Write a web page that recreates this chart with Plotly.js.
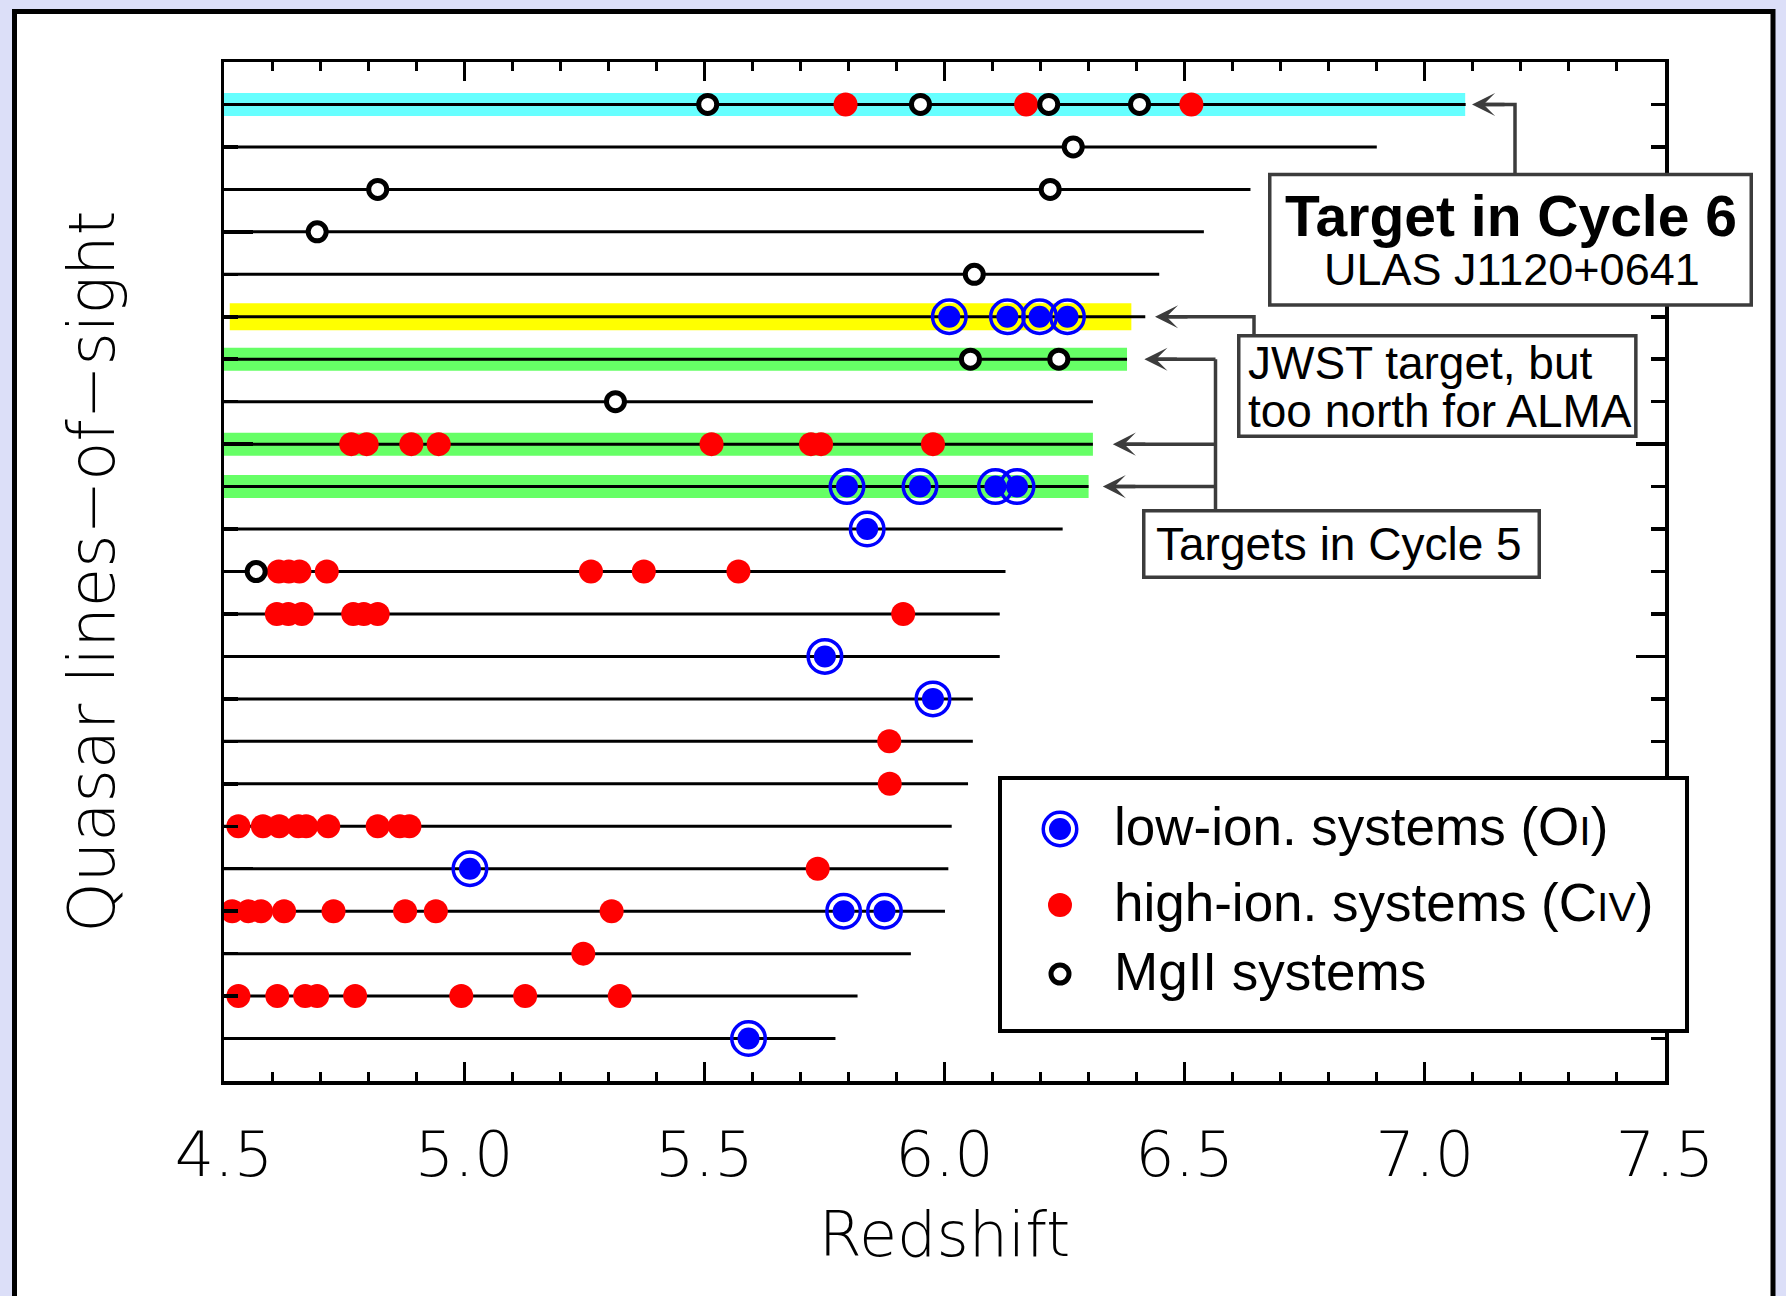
<!DOCTYPE html>
<html>
<head>
<meta charset="utf-8">
<script src="https://cdn.plot.ly/plotly-3.0.1.min.js"></script>
<style>
  html, body { margin: 0; padding: 0; background: #dcdff8; }
  #chart { width: 1786px; height: 1296px; }
</style>
</head>
<body>
<div id="chart"></div>
<script>
// ---------------------------------------------------------------------------
// Quasar sightlines, listed from the top row to the bottom row.
// Each line runs from z = 4.5 up to the quasar's own redshift.
// ---------------------------------------------------------------------------
const qsoRedshift = [7.085, 6.900, 6.637, 6.540, 6.447, 6.418, 6.380, 6.309, 6.309, 6.300,
                     6.246, 6.127, 6.115, 6.115, 6.059, 6.059, 6.049, 6.015, 6.008, 6.001,
                     5.930, 5.819, 5.773];

// Low-ionisation (O I) absorbers on each sightline
const oiSystems = [
  [], [], [], [], [],
  [6.010, 6.131, 6.198, 6.256],
  [], [], [],
  [5.797, 5.949, 6.106, 6.151],
  [5.839], [], [],
  [5.751],
  [5.976], [], [], [],
  [5.012],
  [5.790, 5.875],
  [], [],
  [5.592]
];

// High-ionisation (C IV) absorbers on each sightline
const civSystems = [
  [5.794, 6.170, 6.514],
  [], [], [], [], [], [], [],
  [4.765, 4.797, 4.890, 4.947, 5.515, 5.722, 5.743, 5.976],
  [], [],
  [4.614, 4.635, 4.657, 4.714, 5.264, 5.374, 5.571],
  [4.610, 4.634, 4.662, 4.769, 4.791, 4.820, 5.914],
  [], [],
  [5.885],
  [5.886],
  [4.530, 4.581, 4.615, 4.655, 4.671, 4.717, 4.820, 4.866, 4.886],
  [5.736],
  [4.517, 4.551, 4.577, 4.625, 4.728, 4.877, 4.941, 5.307],
  [5.248],
  [4.530, 4.611, 4.669, 4.694, 4.773, 4.994, 5.127, 5.324],
  []
];

// Mg II absorbers on each sightline
const mgiiSystems = [
  [5.507, 5.950, 6.217, 6.406],
  [6.268],
  [4.820, 6.220],
  [4.694],
  [6.062],
  [],
  [6.054, 6.238],
  [5.315],
  [], [], [],
  [4.567],
  [], [], [], [], [], [], [], [], [], [], []
];

// Highlighted sightlines: row, redshift span of the highlight, programme
const bandRow   = [0, 5, 6, 8, 9];
const bandStart = [4.500, 4.512, 4.500, 4.500, 4.500];
const bandEnd   = [7.084, 6.389, 6.380, 6.309, 6.300];
const bandKind  = ['cycle6', 'jwst', 'cycle5', 'cycle5', 'cycle5'];

// Redshift axis
const zTicks      = [4.5, 5.0, 5.5, 6.0, 6.5, 7.0, 7.5];
const zTickLabels = ['4.5', '5.0', '5.5', '6.0', '6.5', '7.0', '7.5'];

// Callout and legend text
const cycle6Title  = 'Target in Cycle 6';
const cycle6Quasar = 'ULAS J1120+0641';
const jwstLines    = ['JWST target, but', 'too north for ALMA'];
const cycle5Label  = 'Targets in Cycle 5';
const legendLabels = [
  'low-ion. systems (O<span style="font-size:41px">I</span>)',
  'high-ion. systems (C<span style="font-size:41px">IV</span>)',
  'MgII systems'
];

// ---------------------------------------------------------------------------
// Page geometry and styles
// ---------------------------------------------------------------------------
const FIG_W = 1786, FIG_H = 1296;
const M = { l: 224, r: 121, t: 62, b: 215 };
const PLOT_W = FIG_W - M.l - M.r;
const PLOT_H = FIG_H - M.t - M.b;
const Y_MAX = qsoRedshift.length + 1;   // one empty slot above and below
const Z_MIN = 4.5, Z_MAX = 7.5;

const SANS = '"Liberation Sans", Arial, Helvetica, sans-serif';
const AXIS_FONT = '"DejaVu Sans", Verdana, sans-serif';
const BOX_GREY = '#3c3c3c';

const bandStyle = {
  cycle6: { color: '#66ffff', width: 23 },
  jwst:   { color: '#ffff00', width: 27 },
  cycle5: { color: '#66ff66', width: 23 }
};

// pixel -> paper helpers for the decorations drawn around the plot
const PX = px => (px - M.l) / PLOT_W;
const PY = py => (FIG_H - M.b - py) / PLOT_H;
const rowY = i => qsoRedshift.length - i;          // data y of row i
const rowPx = i => FIG_H - M.b - rowY(i) * PLOT_H / Y_MAX;

function flatten(lists) {
  const xs = [], ys = [];
  lists.forEach((zs, i) => zs.forEach(z => { xs.push(z); ys.push(rowY(i)); }));
  return { xs, ys };
}

// ---------------------------------------------------------------------------
// Traces
// ---------------------------------------------------------------------------
const traces = [];

bandRow.forEach((r, k) => {
  const st = bandStyle[bandKind[k]];
  traces.push({
    type: 'scatter', mode: 'lines',
    x: [bandStart[k], bandEnd[k]], y: [rowY(r), rowY(r)],
    line: { color: st.color, width: st.width },
    hoverinfo: 'skip', showlegend: false
  });
});

const lx = [], ly = [];
qsoRedshift.forEach((z, i) => { lx.push(Z_MIN, z, null); ly.push(rowY(i), rowY(i), null); });
traces.push({
  type: 'scatter', mode: 'lines', x: lx, y: ly,
  line: { color: '#000000', width: 3 },
  hoverinfo: 'skip', showlegend: false
});

const civ = flatten(civSystems);
traces.push({
  type: 'scatter', mode: 'markers', x: civ.xs, y: civ.ys,
  marker: { symbol: 'circle', size: 24, color: '#ff0000', line: { width: 0 } },
  name: 'C IV', showlegend: false
});

const oi = flatten(oiSystems);
traces.push({
  type: 'scatter', mode: 'markers', x: oi.xs, y: oi.ys,
  marker: { symbol: 'circle-open', size: 33.5, color: '#0000ff', line: { color: '#0000ff', width: 3.5 } },
  hoverinfo: 'skip', showlegend: false
});
traces.push({
  type: 'scatter', mode: 'markers', x: oi.xs, y: oi.ys,
  marker: { symbol: 'circle', size: 22, color: '#0000ff', line: { width: 0 } },
  name: 'O I', showlegend: false
});

const mg = flatten(mgiiSystems);
traces.push({
  type: 'scatter', mode: 'markers', x: mg.xs, y: mg.ys,
  marker: { symbol: 'circle', size: 18, color: '#ffffff', line: { color: '#000000', width: 5 } },
  name: 'Mg II', showlegend: false
});

// ---------------------------------------------------------------------------
// Decorations: outer panel, callout boxes, connectors, legend
// ---------------------------------------------------------------------------
const shapes = [];
const annotations = [];

// white panel with a black frame
shapes.push({
  type: 'rect', xref: 'paper', yref: 'paper', layer: 'below',
  x0: PX(14.5), x1: PX(1773), y0: PY(11.5), y1: PY(1340),
  fillcolor: '#ffffff', line: { color: '#000000', width: 5 }
});

function boxShape(x0, y0, x1, y1, color, width) {
  shapes.push({
    type: 'rect', xref: 'paper', yref: 'paper', layer: 'above',
    x0: PX(x0), x1: PX(x1), y0: PY(y0), y1: PY(y1),
    fillcolor: '#ffffff', line: { color: color, width: width }
  });
}
function connector(points) {
  const d = points.map((p, j) => (j ? 'L' : 'M') + PX(p[0]) + ',' + PY(p[1])).join(' ');
  shapes.push({
    type: 'path', xref: 'paper', yref: 'paper', layer: 'above',
    path: d, line: { color: BOX_GREY, width: 3.5 }
  });
}
function arrowHead(tipX, tipY) {
  annotations.push({
    xref: 'paper', yref: 'paper', x: PX(tipX), y: PY(tipY),
    text: '', showarrow: true, ax: 34, ay: 0,
    arrowhead: 3, arrowsize: 1.1, arrowwidth: 3.5, arrowcolor: BOX_GREY,
    font: { size: 1 }
  });
}
function label(text, x, y, size, anchor, bold) {
  annotations.push({
    xref: 'paper', yref: 'paper', x: PX(x), y: PY(y),
    xanchor: anchor, yanchor: 'middle', showarrow: false,
    text: bold ? '<b>' + text + '</b>' : text,
    font: { family: SANS, size: size, color: '#000000' }
  });
}

// Cycle 6 target (top sightline)
const r1 = rowPx(bandRow[0]);
connector([[1482, r1], [1515, r1], [1515, 174.5]]);
arrowHead(1472, r1);
boxShape(1269.75, 174.5, 1751.25, 305, BOX_GREY, 3.5);
label(cycle6Title, 1510.5, 215.6, 57, 'center', true);
label(cycle6Quasar, 1512, 269.4, 45, 'center', false);

// JWST target (yellow sightline)
const r6 = rowPx(bandRow[1]);
connector([[1165, r6], [1254, r6], [1254, 335.75]]);
arrowHead(1155, r6);
boxShape(1238.75, 335.75, 1635.85, 436.25, BOX_GREY, 3.5);
label(jwstLines[0], 1245.6, 363.4, 46, 'left', false);
label(jwstLines[1], 1245.6, 411.1, 46, 'left', false);

// Cycle 5 targets (green sightlines)
const c5Tips = [1144.4, 1112.8, 1102.8];
const c5Rows = bandRow.slice(2).map(rowPx);
connector([[1215.5, c5Rows[0]], [1215.5, 510.75]]);
c5Rows.forEach((ry, k) => {
  connector([[c5Tips[k] + 10, ry], [1215.5, ry]]);
  arrowHead(c5Tips[k], ry);
});
boxShape(1143.75, 510.75, 1539.25, 577.25, BOX_GREY, 3.5);
label(cycle5Label, 1339, 544.4, 46, 'center', false);

// Legend
boxShape(1000, 778, 1687, 1031, '#000000', 4);
const legX = 1060, legY = [829, 905, 974], legTextX = 1111.7, legTextY = [826.3, 902, 971];
function dot(cx, cy, d, fill, lineColor, lineWidth) {
  shapes.push({
    type: 'circle', xref: 'paper', yref: 'paper', layer: 'above',
    xsizemode: 'pixel', ysizemode: 'pixel', xanchor: PX(cx), yanchor: PY(cy),
    x0: -d / 2, x1: d / 2, y0: -d / 2, y1: d / 2,
    fillcolor: fill, line: { color: lineColor, width: lineWidth }
  });
}
dot(legX, legY[0], 33.5, 'rgba(0,0,0,0)', '#0000ff', 3.5);
dot(legX, legY[0], 22, '#0000ff', '#0000ff', 0);
dot(legX, legY[1], 24, '#ff0000', '#ff0000', 0);
dot(legX, legY[2], 18, '#ffffff', '#000000', 5);
legendLabels.forEach((t, k) => label(t, legTextX, legTextY[k], 53, 'left', false));

// ---------------------------------------------------------------------------
// Layout
// ---------------------------------------------------------------------------
const axisTextFont = { family: AXIS_FONT, size: 62, color: '#000000', weight: 200 };

const layout = {
  width: FIG_W, height: FIG_H,
  margin: M,
  paper_bgcolor: '#dcdff8',
  plot_bgcolor: '#ffffff',
  showlegend: false,
  xaxis: {
    range: [Z_MIN, Z_MAX],
    tickmode: 'array', tickvals: zTicks, ticktext: zTickLabels,
    ticks: 'inside', ticklen: 19, tickwidth: 3, tickcolor: '#000000',
    minor: { tickmode: 'linear', tick0: Z_MIN, dtick: 0.1, ticks: 'inside', ticklen: 9, tickwidth: 3, tickcolor: '#000000' },
    showline: true, linewidth: 3.5, linecolor: '#000000', mirror: 'allticks',
    showgrid: false, zeroline: false,
    tickfont: axisTextFont,
    ticklabelstandoff: 17,
    title: { text: 'Redshift', font: axisTextFont, standoff: 23 }
  },
  yaxis: {
    range: [0, Y_MAX],
    tickmode: 'linear', tick0: 0, dtick: 5,
    ticks: 'inside', ticklen: 29, tickwidth: 3.5, tickcolor: '#000000',
    minor: { tickmode: 'linear', tick0: 0, dtick: 1, ticks: 'inside', ticklen: 14, tickwidth: 3.5, tickcolor: '#000000' },
    showticklabels: false,
    showline: true, linewidth: 3.5, linecolor: '#000000', mirror: 'allticks',
    showgrid: false, zeroline: false,
    title: { text: 'Quasar lines\u2212of\u2212sight', font: Object.assign({}, axisTextFont, { size: 64 }), standoff: 86 }
  },
  shapes: shapes,
  annotations: annotations
};

Plotly.newPlot('chart', traces, layout, { displayModeBar: false, staticPlot: true });
</script>
</body>
</html>
